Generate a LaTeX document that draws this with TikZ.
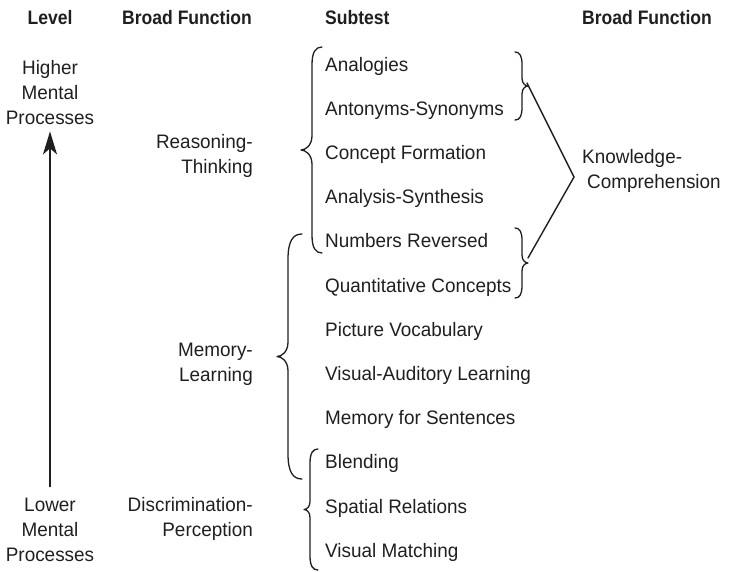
\documentclass[tikz,border=0pt]{standalone}
\usepackage{fontspec}
\setmainfont{Liberation Sans}[FakeStretch=0.97]
\newfontfamily\headfont{Liberation Sans}[FakeStretch=0.9]
\usetikzlibrary{arrows.meta}

% curly brace: #1 end x, #2 stem x, #3 tip x, #4 top y, #5 bottom y
\newcommand\drawcurl[5]{%
  \draw[curl] (#1,#4)
    .. controls ({#2+0.35*(#1-#2)},#4) and (#2,{#4+0.5*abs(#1-#2)}) .. (#2,{#4+1.8*abs(#1-#2)})
    -- (#2,{(#4+#5)/2-1.3*abs(#2-#3)})
    .. controls (#2,{(#4+#5)/2-0.4*abs(#2-#3)}) and ({#3+0.4*(#2-#3)},{(#4+#5)/2}) .. (#3,{(#4+#5)/2})
    .. controls ({#3+0.4*(#2-#3)},{(#4+#5)/2}) and (#2,{(#4+#5)/2+0.4*abs(#2-#3)}) .. (#2,{(#4+#5)/2+1.3*abs(#2-#3)})
    -- (#2,{#5-1.8*abs(#1-#2)})
    .. controls (#2,{#5-0.5*abs(#1-#2)}) and ({#2+0.35*(#1-#2)},#5) .. (#1,#5);%
}

\begin{document}
\begin{tikzpicture}[x=1pt,y=-1pt,
  every node/.style={inner sep=0pt, font=\fontsize{19.5}{25}\selectfont, text=black!88},
  head/.style={font=\headfont\bfseries\fontsize{19.5}{25}\selectfont},
  item/.style={anchor=base west},
  curl/.style={line width=1.3pt, line cap=round, line join=round, black!88},
  link/.style={line width=1.4pt, line cap=round, line join=miter, black!88},
  levelarrow/.style={line width=2pt, black!88, -{Stealth[length=23pt,width=14pt,inset=6pt]}}]
\useasboundingbox (0,0) rectangle (731,571);

% column headings
\node[head, anchor=base] (hLevel) at (50,24) {Level};
\node[head, anchor=base west] (hBroadL) at (122,24) {Broad Function};
\node[head, anchor=base west] (hSub) at (325,24) {Subtest};
\node[head, anchor=base west] (hBroadR) at (582,24) {Broad Function};

% level column (base anchor = baseline of the last line)
\node[align=center, anchor=base] (high) at (50,124) {Higher\\Mental\\Processes};
\node[align=center, anchor=base] (low) at (50,561) {Lower\\Mental\\Processes};
\draw[levelarrow, shorten <=10pt, shorten >=7pt] (low.north) -- (high.south);

% broad functions (left)
\node[align=right, anchor=base east] (reason) at (253,173) {Reasoning-\\Thinking};
\node[align=right, anchor=base east] (memory) at (253,381) {Memory-\\Learning};
\node[align=right, anchor=base east] (discr) at (253,536) {Discrimination-\\Perception};

% subtests
\foreach \t [count=\i from 0] in {Analogies, Antonyms-Synonyms, Concept Formation,
    Analysis-Synthesis, Numbers Reversed, Quantitative Concepts, Picture Vocabulary,
    Visual-Auditory Learning, Memory for Sentences, Blending, Spatial Relations,
    Visual Matching}
  \node[item] (s\i) at (325,{71+44.2*\i}) {\t};

% braces grouping the subtests
\drawcurl{322}{312}{301}{47}{253}
\drawcurl{302}{288}{277}{234}{479}
\drawcurl{318}{310}{304}{449}{570}
\drawcurl{515}{522}{528}{52}{120}
\drawcurl{515}{522}{528}{228}{298}

% broad function (right)
\node[align=left, anchor=base west] (know) at (582,188) {Knowledge-\\\hspace*{5pt}Comprehension};
\coordinate (kTop) at (527,83);
\coordinate (kBot) at (528,258);
\coordinate (kApex) at (574,177);
\draw[link] (kTop) -- (kApex) -- (kBot);
\end{tikzpicture}
\end{document}
